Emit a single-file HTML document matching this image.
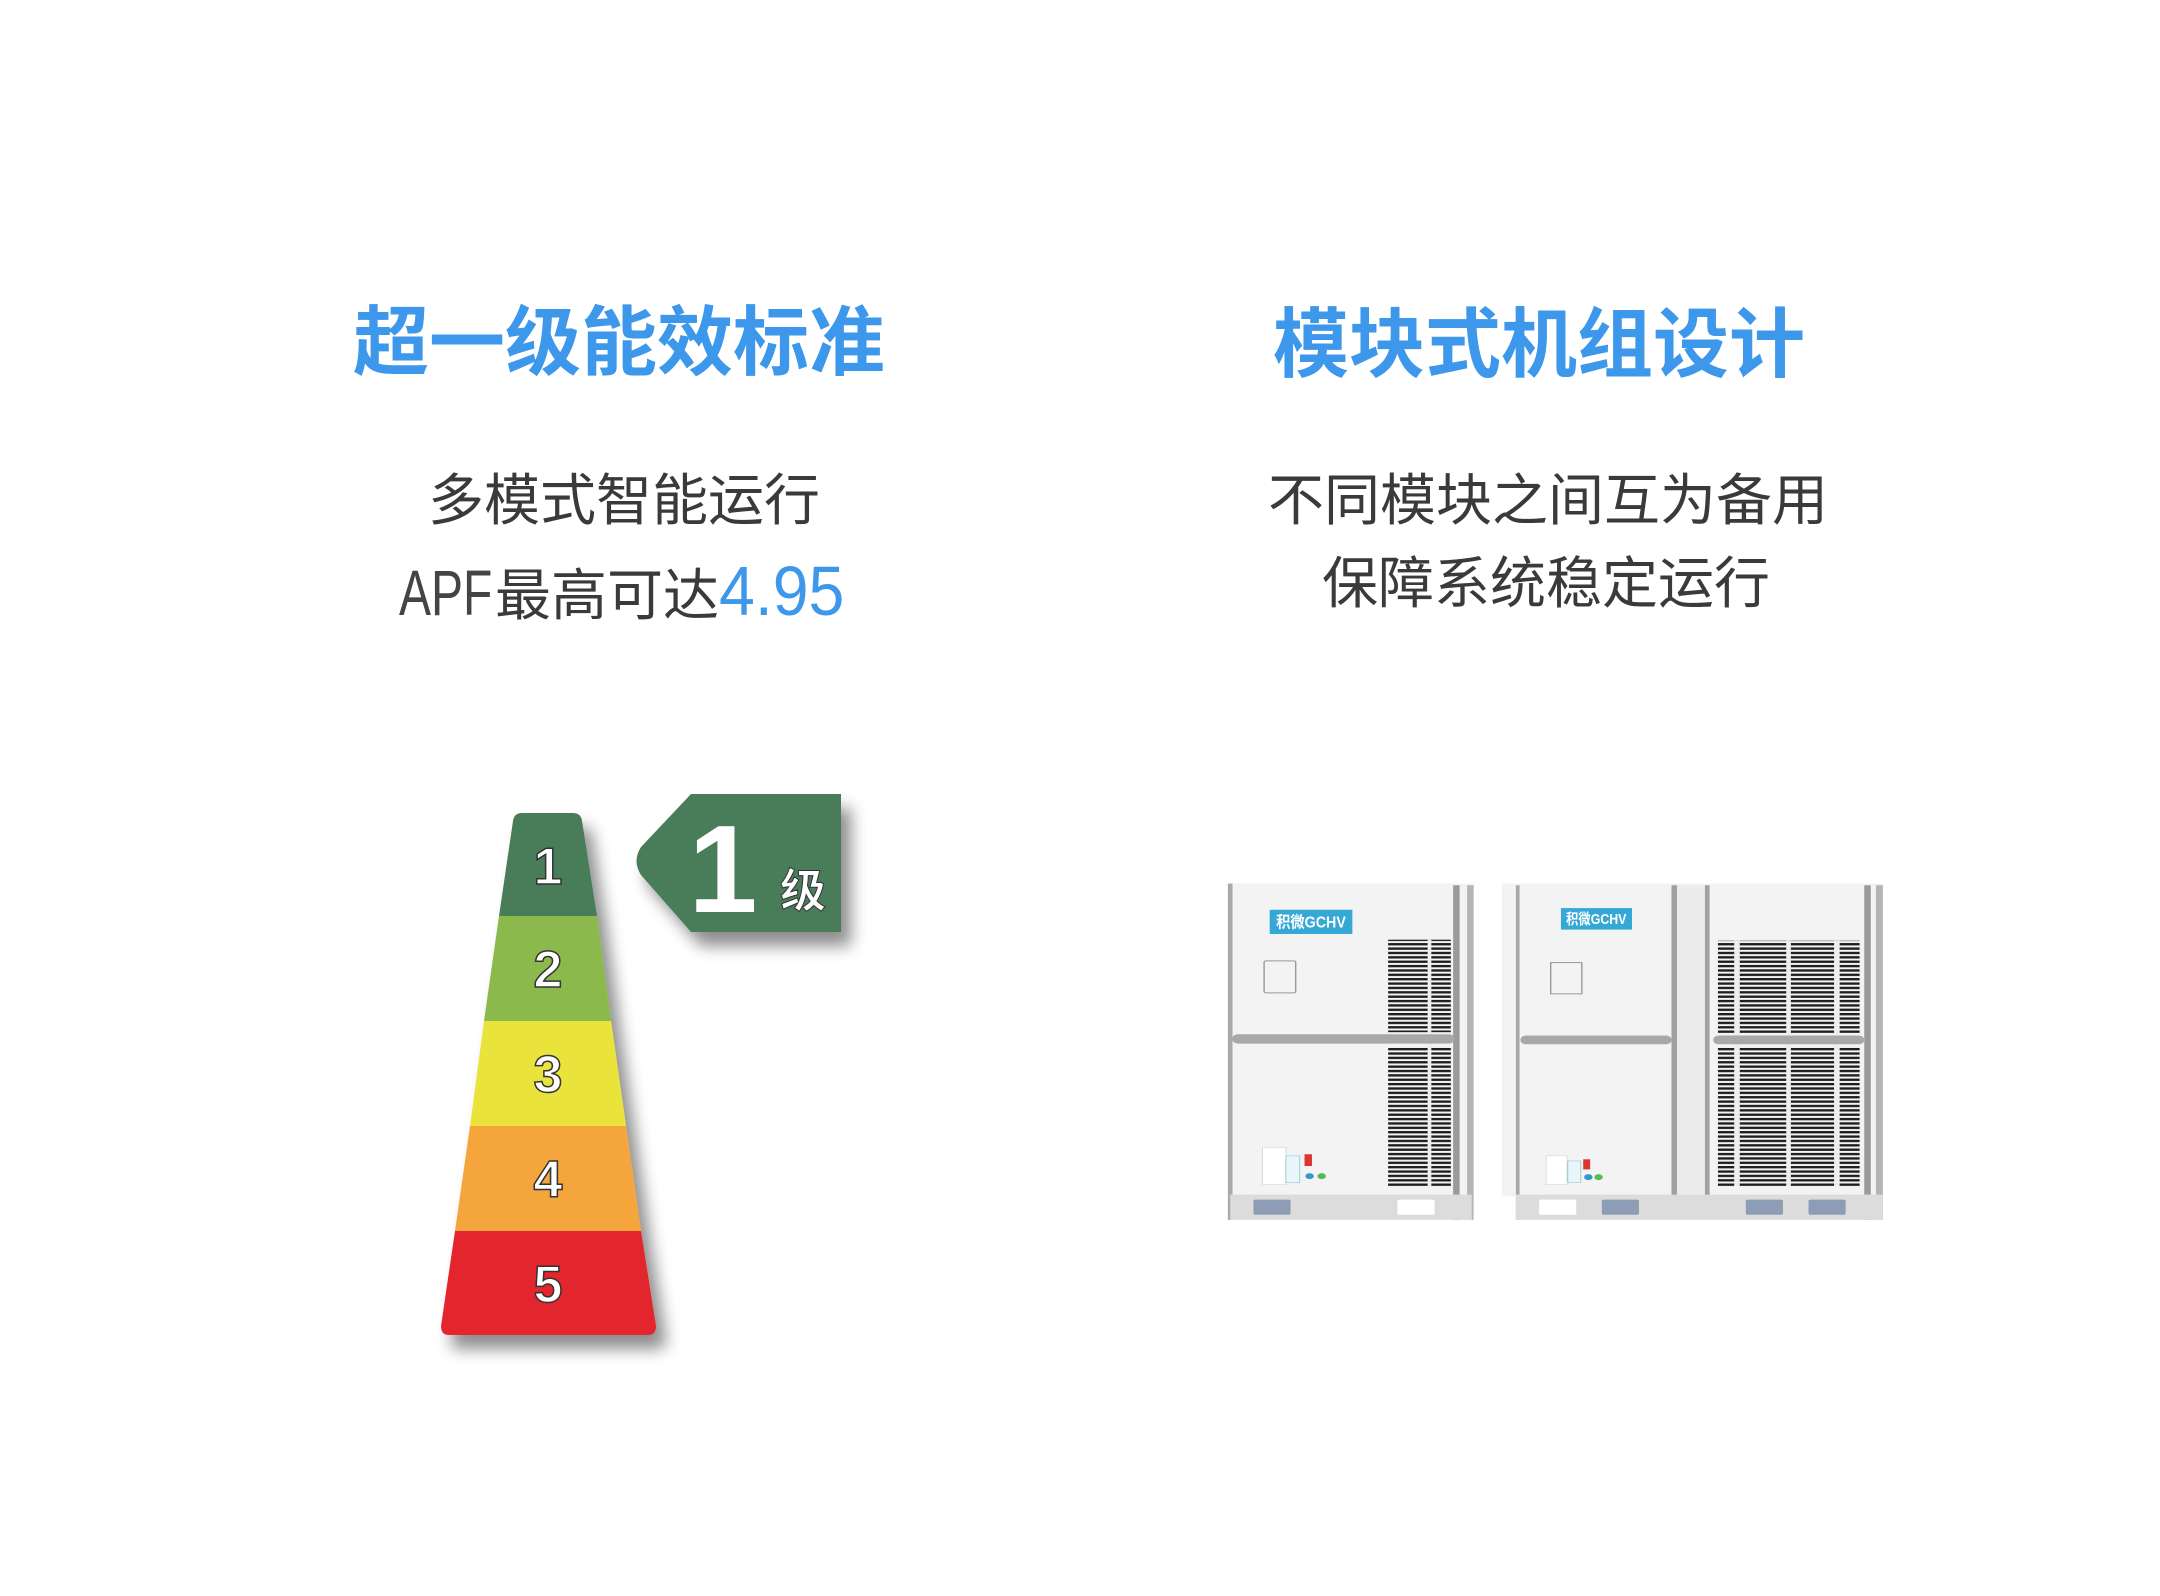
<!DOCTYPE html>
<html><head><meta charset="utf-8">
<style>
html,body{margin:0;padding:0;background:#fff;}
body{width:2160px;height:1596px;position:relative;overflow:hidden;font-family:"Liberation Sans","Noto Sans CJK SC",sans-serif;}
.t{position:absolute;white-space:nowrap;line-height:1;}
.h{color:#3d97ea;font-weight:bold;font-size:76px;}
.s{color:#3a3a3a;font-size:56px;}
</style></head><body>
<div class="t h" style="left:353px;top:306px;width:531px;text-align:center;">超一级能效标准</div>
<div class="t h" style="left:1273px;top:308px;width:529px;text-align:center;">模块式机组设计</div>

<div class="t s" style="left:424px;top:473px;width:400px;text-align:center;">多模式智能运行</div>
<div class="t" style="left:399px;top:556px;color:#3a3a3a;">
<span style="display:inline-block;font-size:64px;font-weight:200;color:#444;transform:scaleX(0.75);transform-origin:left bottom;width:96px;">APF</span><span style="font-size:56px;">最高可达</span><span style="display:inline-block;font-size:70px;color:#3d97ea;transform:scaleX(0.92);transform-origin:left bottom;">4.95</span></div>

<div class="t s" style="left:1268px;top:473px;width:556px;text-align:center;">不同模块之间互为备用</div>
<div class="t s" style="left:1268px;top:556px;width:556px;text-align:center;">保障系统稳定运行</div>

<svg width="2160" height="1596" style="position:absolute;left:0;top:0;">
<defs>
<filter id="sh" x="-20%" y="-20%" width="150%" height="150%"><feGaussianBlur in="SourceAlpha" stdDeviation="8"/><feOffset dx="10" dy="14"/><feComponentTransfer><feFuncA type="linear" slope="0.45"/></feComponentTransfer><feMerge><feMergeNode/><feMergeNode in="SourceGraphic"/></feMerge></filter>
</defs>
<g transform="translate(-2,-5)">
<g filter="url(#sh)">
<path d="M515,826 Q516,818 524,818 L575,818 Q583,818 584,826 L599,921 L501,921 Z" fill="#4a7c59"/>
<path d="M501,921 L599,921 L613,1026 L486,1026 Z" fill="#8bb94b"/>
<path d="M486,1026 L613,1026 L628,1131 L472,1131 Z" fill="#e9e33b"/>
<path d="M472,1131 L628,1131 L643,1236 L457,1236 Z" fill="#f4a53b"/>
<path d="M457,1236 L643,1236 L658,1331 Q658,1340 650,1340 L451,1340 Q443,1340 443,1331 Z" fill="#e3262e"/>
</g>
<g font-family="Liberation Sans, sans-serif" font-weight="bold" fill="#fff" stroke="#333" stroke-width="1.5" text-anchor="middle" font-size="52">
<text x="550" y="889">1</text><text x="550" y="992">2</text><text x="550" y="1097">3</text><text x="550" y="1202">4</text><text x="550" y="1307">5</text>
</g>
</g>
<g transform="translate(-6,-5)">
<g filter="url(#sh)">
<path d="M697,799 L847,799 L847,937 L697,937 L647,880 Q638,866 647,852 Z" fill="#4a7c59"/>
</g>
<text x="729" y="917" font-family="Liberation Sans, sans-serif" font-weight="bold" font-size="124" fill="#fff" text-anchor="middle">1</text>
<text x="809" y="912" font-family="Liberation Sans, Noto Sans CJK SC, sans-serif" font-weight="bold" font-size="46" fill="#fff" stroke="#333" stroke-width="1" text-anchor="middle">级</text>
</g>
</svg>

<svg width="720" height="380" viewBox="0 0 1550 1130" preserveAspectRatio="none" style="position:absolute;left:1200px;top:860px;">
<defs>
<pattern id="gr" x="0" y="0" width="20" height="13" patternUnits="userSpaceOnUse"><rect width="20" height="7" fill="#1e1e1e"/></pattern>
</defs>
<!-- unit 1 -->
<rect x="60" y="70" width="530" height="930" fill="#f3f3f3"/>
<rect x="60" y="70" width="10" height="1000" fill="#a9a9a9"/>
<rect x="545" y="75" width="14" height="995" fill="#9a9a9a"/>
<rect x="575" y="75" width="14" height="995" fill="#b5b5b5"/>
<rect x="150" y="148" width="178" height="72" fill="#35a8d6"/>
<text x="239" y="200" font-size="48" font-weight="bold" fill="#fff" text-anchor="middle" textLength="150" lengthAdjust="spacingAndGlyphs" font-family="Liberation Sans, Noto Sans CJK SC, sans-serif">积微GCHV</text>
<rect x="138" y="300" width="68" height="95" rx="4" fill="none" stroke="#999" stroke-width="3"/>
<rect x="405" y="237" width="135" height="275" fill="url(#gr)"/>
<rect x="405" y="555" width="135" height="415" fill="url(#gr)"/>
<rect x="490" y="237" width="8" height="735" fill="#eee"/>
<rect x="70" y="518" width="478" height="28" rx="12" fill="#a8a8a8"/>
<rect x="135" y="855" width="50" height="110" fill="#fff" stroke="#bbb"/>
<rect x="185" y="880" width="30" height="80" fill="#eaf4fb" stroke="#4aa"/>
<rect x="225" y="875" width="16" height="35" fill="#d33"/>
<circle cx="236" cy="940" r="9" fill="#39c"/><circle cx="262" cy="940" r="9" fill="#5b5"/>
<rect x="65" y="995" width="520" height="75" fill="#dcdcdc"/>
<rect x="115" y="1010" width="80" height="45" rx="5" fill="#8d9db5"/>
<rect x="425" y="1010" width="80" height="45" rx="5" fill="#fff"/>
<!-- unit 2 -->
<rect x="650" y="70" width="820" height="930" fill="#f3f3f3"/>
<rect x="680" y="75" width="8" height="995" fill="#a9a9a9"/>
<rect x="1015" y="75" width="12" height="925" fill="#a0a0a0"/>
<rect x="1027" y="75" width="60" height="925" fill="#ececec"/>
<rect x="1087" y="75" width="10" height="925" fill="#a0a0a0"/>
<rect x="1430" y="75" width="14" height="995" fill="#9a9a9a"/>
<rect x="1455" y="75" width="15" height="995" fill="#b5b5b5"/>
<rect x="777" y="143" width="153" height="64" fill="#35a8d6"/>
<text x="853" y="191" font-size="44" font-weight="bold" fill="#fff" text-anchor="middle" textLength="130" lengthAdjust="spacingAndGlyphs" font-family="Liberation Sans, Noto Sans CJK SC, sans-serif">积微GCHV</text>
<rect x="755" y="305" width="67" height="93" fill="none" stroke="#999" stroke-width="3"/>
<rect x="1115" y="240" width="305" height="275" fill="url(#gr)"/>
<rect x="1115" y="555" width="305" height="415" fill="url(#gr)"/>
<rect x="1150" y="240" width="12" height="730" fill="#eee"/>
<rect x="1262" y="240" width="10" height="730" fill="#eee"/>
<rect x="1365" y="240" width="12" height="730" fill="#eee"/>
<rect x="690" y="522" width="325" height="26" rx="12" fill="#a8a8a8"/>
<rect x="1105" y="522" width="325" height="26" rx="12" fill="#a8a8a8"/>
<rect x="745" y="880" width="45" height="85" fill="#fff" stroke="#bbb"/>
<rect x="792" y="895" width="28" height="65" fill="#eaf4fb" stroke="#4aa"/>
<rect x="825" y="890" width="15" height="30" fill="#d33"/>
<circle cx="836" cy="943" r="9" fill="#39c"/><circle cx="858" cy="943" r="9" fill="#5b5"/>
<rect x="680" y="995" width="790" height="75" fill="#dcdcdc"/>
<rect x="865" y="1010" width="80" height="45" rx="5" fill="#8d9db5"/>
<rect x="1175" y="1010" width="80" height="45" rx="5" fill="#8d9db5"/>
<rect x="1310" y="1010" width="80" height="45" rx="5" fill="#8d9db5"/>
<rect x="730" y="1010" width="80" height="45" rx="5" fill="#fff"/>
</svg>
</body></html>
